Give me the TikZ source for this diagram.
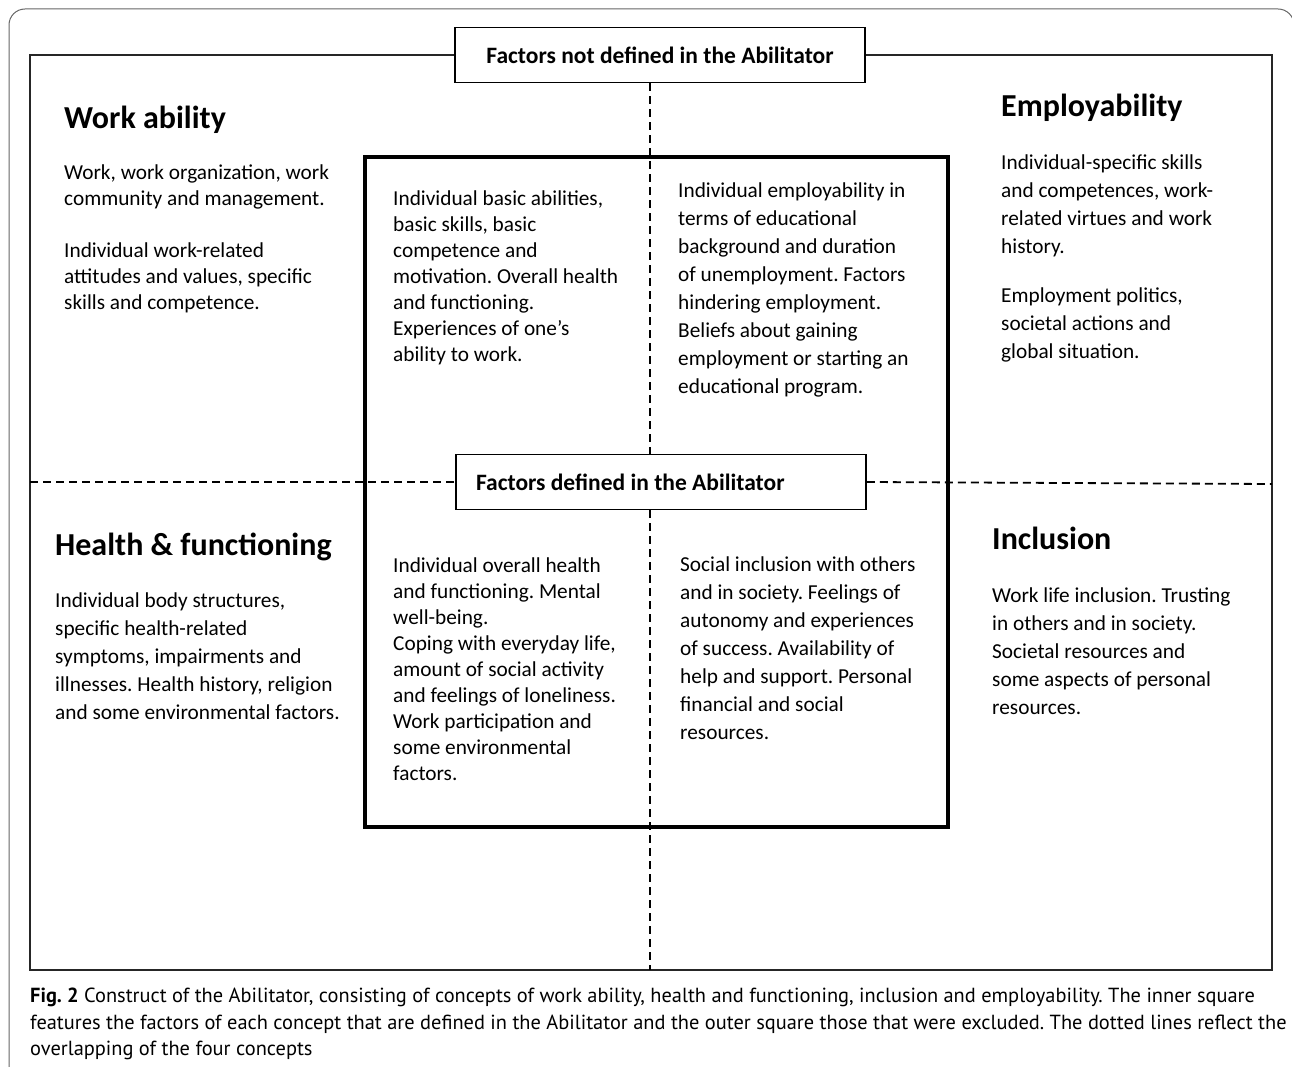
\documentclass[tikz,border=0pt]{standalone}
\usepackage{fontspec}
\setmainfont{Carlito}
\newfontfamily\capfont{PT Sans}
\frenchspacing
\usepackage{tikz}
\usetikzlibrary{positioning,calc}

\begin{document}
\begin{tikzpicture}[x=1pt,y=-1pt,
    heading/.style={anchor=north west,inner sep=0pt,font=\fontsize{32}{36}\selectfont\bfseries},
    body/.style={anchor=north west,inner sep=0pt,align=left,font=\fontsize{21.3}{28}\selectfont},
    tight/.style={body,font=\fontsize{21.3}{26}\selectfont},
    titlebox/.style={draw,line width=1.6pt,fill=white,font=\fontsize{23.5}{26}\selectfont\bfseries,
      minimum width=410pt,minimum height=55pt,inner sep=0pt},
    sep/.style={dashed,dash pattern=on 8pt off 5pt}]
  \useasboundingbox (0,0) rectangle (1292,1067);
  % page frame
  \draw[gray!80!black,line width=1pt,rounded corners=16pt] (9,9) rectangle (1294,1110);
  % outer square
  \draw[line width=1.5pt,black!85] (30,55) rectangle (1272,970);
  \coordinate (ol) at (30,482);
  \coordinate (or) at (1272,484);
  \coordinate (ob) at (650,970);
  % inner square
  \draw[line width=4pt] (365,157) rectangle (948,827);
  % boxes
  \node[titlebox] (notdef) at (660,55) {Factors not defined in the Abilitator};
  \node[titlebox,text width=370pt,align=flush left] (def) at (661,482) {Factors defined in the Abilitator};
  % overlap lines
  \draw[sep,line width=1.3pt] (notdef.south -| ob) -- (def.north -| ob);
  \draw[sep,line width=1.3pt] (def.south -| ob) -- (ob);
  \draw[sep,line width=1.8pt] (ol) -- (def.west);
  \draw[sep,line width=1.8pt] (def.east) -- (or);

  % work ability
  \node[heading] (wa) at (64,106) {Work ability};
  \node[body,font=\fontsize{21.3}{26}\selectfont] (wa1) at (64,165) {Work, work organization, work\\community and management.\\[26pt]
    Individual work-related\\attitudes and values, specific\\skills and competence.};
  % employability
  \node[heading] (em) at (1001,94) {Employability};
  \node[body] (em1) at (1001,155) {Individual-specific skills\\and competences, work-\\related virtues and work\\history.\\[21pt]
    Employment politics,\\societal actions and\\global situation.};
  % health & functioning
  \node[heading] (hf) at (55,533) {Health \& functioning};
  \node[body] (hf1) at (55,593) {Individual body structures,\\specific health-related\\symptoms, impairments and\\illnesses. Health history, religion\\and some environmental factors.};
  % inclusion
  \node[heading] (in) at (992,527) {Inclusion};
  \node[body] (in1) at (992,588) {Work life inclusion. Trusting\\in others and in society.\\Societal resources and\\some aspects of personal\\resources.};

  % inner quarters
  \node[tight] (iwa) at (393,191) {Individual basic abilities,\\basic skills, basic\\competence and\\motivation. Overall health\\and functioning.\\Experiences of one’s\\ability to work.};
  \node[body] (iem) at (678,183) {Individual employability in\\terms of educational\\background and duration\\of unemployment. Factors\\hindering employment.\\Beliefs about gaining\\employment or starting an\\educational program.};
  \node[tight] (ihf) at (393,558) {Individual overall health\\and functioning. Mental\\well-being.\\Coping with everyday life,\\amount of social activity\\and feelings of loneliness.\\Work participation and\\some environmental\\factors.};
  \node[body] (iin) at (680,557) {Social inclusion with others\\and in society. Feelings of\\autonomy and experiences\\of success. Availability of\\help and support. Personal\\financial and social\\resources.};

  % caption
  \node[anchor=north west,inner sep=0pt,align=left,font=\capfont\fontsize{20.4}{26.5}\selectfont] (cap) at (30,988)
    {\textbf{Fig. 2} Construct of the Abilitator, consisting of concepts of work ability, health and functioning, inclusion and employability. The inner square\\
     features the factors of each concept that are defined in the Abilitator and the outer square those that were excluded. The dotted lines reflect the\\
     overlapping of the four concepts};
\end{tikzpicture}
\end{document}
